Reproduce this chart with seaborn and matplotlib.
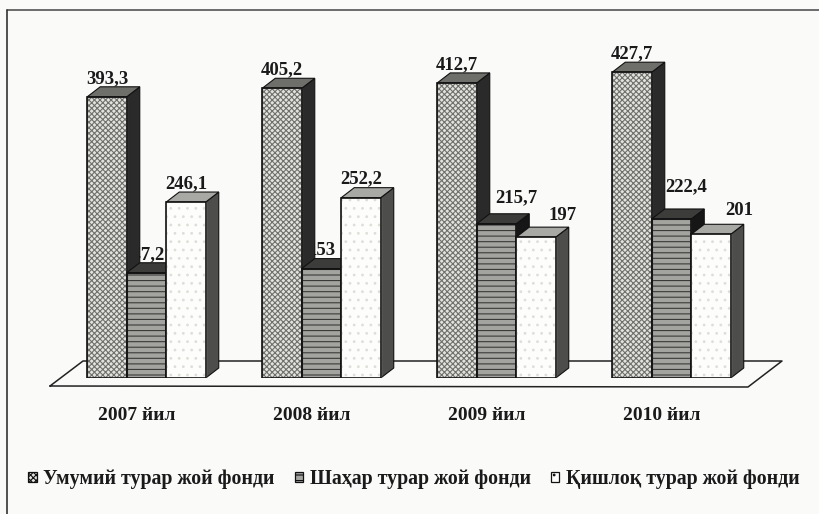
import matplotlib
matplotlib.use("Agg")
import matplotlib.pyplot as plt
from matplotlib.patches import Polygon, Rectangle
from matplotlib.lines import Line2D
from matplotlib.transforms import ScaledTranslation
import pandas as pd
import seaborn as sns

years = ["2007 йил", "2008 йил", "2009 йил", "2010 йил"]
series_names = ["Умумий турар жой фонди", "Шаҳар турар жой фонди", "Қишлоқ турар жой фонди"]
total = [393.3, 405.2, 412.7, 427.7]
urban = [147.2, 153, 215.7, 222.4]
rural = [246.1, 252.2, 197, 201]
labels_total = ["393,3", "405,2", "412,7", "427,7"]
labels_urban = ["147,2", "153", "215,7", "222,4"]
labels_rural = ["246,1", "252,2", "197", "201"]

W, H = 819, 514
BG = "#fafaf9"
INK = "#1a1a1a"
FACES = ["#e2e2de", "#a3a39f", "#fdfdfb"]
HATCH_INK = ["#6f6f6b", "#3a3a38", "#dededa"]
HATCHES = ["xxxxxx", "---", ".."]
sns.set_theme(style="white")
plt.rcParams["font.family"] = ["Liberation Serif", "DejaVu Serif"]
plt.rcParams["hatch.linewidth"] = 0.8

df = pd.DataFrame({
    "year": years * 3,
    "series": sum([[s] * 4 for s in series_names], []),
    "value": total + urban + rural,
})

fig = plt.figure(figsize=(W / 100, H / 100), dpi=100, facecolor=BG)
ax = fig.add_axes([59 / W, 1 - 378 / H, 700 / W, 328 / H])
ax.patch.set_alpha(0)

sns.barplot(data=df, x="year", y="value", hue="series", hue_order=series_names, order=years,
            width=0.677, gap=0, dodge=True, legend=False, ax=ax,
            palette=FACES, linewidth=0.8, errorbar=None)
ax.set_xlim(-0.5, 3.5)
ax.set_ylim(0, 328 / 0.715)
ax.set_xlabel("")
ax.set_ylabel("")
ax.set_yticks([])
ax.tick_params(axis="x", length=0, pad=21, labelsize=14)
shift = ScaledTranslation(-10 / 100, 0, fig.dpi_scale_trans)
for t in ax.get_xticklabels():
    t.set_fontweight("bold")
    t.set_color(INK)
    t.set_transform(t.get_transform() + shift)
sns.despine(ax=ax, left=True, bottom=True, top=True, right=True)


def P(x, y):
    return (x / W, 1 - y / H)


# Floor of the 3-D chart and the frame of the scanned page (figure fractions)
for pts, c, lw in [
    ([(50, 386), (83, 361), (782, 361), (748, 387), (50, 386)], "#222222", 1.1),
    ([(7, 10), (819, 10)], "#444444", 1.1),
    ([(7, 10), (7, 514)], "#333333", 1.2),
]:
    xs, ys = zip(*[P(*p) for p in pts])
    fig.add_artist(Line2D(xs, ys, color=c, lw=lw, transform=fig.transFigure, zorder=-1))

DX, DY = 13, 10   # depth of the bars, pixels
bars = [p for p in ax.patches if p.get_width() > 0]
texts = [labels_total, labels_urban, labels_rural]
side_colors = ["#2a2a2a", "#161616", "#4d4d4b"]
top_colors = ["#6e6e6a", "#3c3c3a", "#a8a8a4"]
# label offset from the bar's front-top centre, in pixels (series, group)
label_shift = {(1, 0): (-3, 0), (1, 1): (0, 0), (1, 2): (20, 8), (1, 3): (15, 14),
               (2, 2): (27, 3), (2, 3): (28, 5)}
to_disp = ax.transData
for i, bar in enumerate(bars):
    s, g = i // 4, i % 4
    x0, w, h = bar.get_x(), bar.get_width(), bar.get_height()
    (ax0, ay0) = to_disp.transform((x0, 0))
    (ax1, ay1) = to_disp.transform((x0 + w, h))
    z = 4 + s * 3
    bar.set_hatch(HATCHES[s])
    bar.set_edgecolor(HATCH_INK[s])
    bar.set_zorder(z + 1)
    ax.add_patch(Rectangle((x0, 0), w, h, fill=False, edgecolor="#111111", lw=1.2, zorder=z + 1.5))
    side = Polygon([(ax1, ay0), (ax1 + DX, ay0 + DY), (ax1 + DX, ay1 + DY), (ax1, ay1)], closed=True,
                   transform=None, facecolor=side_colors[s], edgecolor="#111111", lw=0.8, zorder=z)
    top = Polygon([(ax0, ay1), (ax0 + DX, ay1 + DY), (ax1 + DX, ay1 + DY), (ax1, ay1)], closed=True,
                  transform=None, facecolor=top_colors[s], edgecolor="#111111", lw=0.8, zorder=z)
    ax.add_artist(side)
    ax.add_artist(top)
    dx, dy = label_shift.get((s, g), (0, 0))
    hidden = s == 1 and g < 2
    ax.annotate(texts[s][g], xy=(x0 + w / 2, h), xytext=(dx, DY + dy), textcoords="offset pixels",
                ha="center", va="bottom", fontsize=13.5, fontweight="bold", color=INK,
                zorder=2 if hidden else 14)

handles = [Rectangle((0, 0), 1, 1, facecolor=c, edgecolor=e, hatch=h, lw=0.9)
           for c, e, h in zip(FACES, ["#111111"] * 3, HATCHES)]
fig.legend(handles, series_names, loc="center", bbox_to_anchor=(414 / W, 1 - 479 / H), ncol=3, frameon=False,
           prop={"weight": "bold", "size": 14.3}, handlelength=0.42, handleheight=0.42, handletextpad=0.35,
           columnspacing=1.0, labelcolor=INK, borderpad=0, borderaxespad=0)

fig.savefig("out.png", dpi=100, facecolor=BG)
